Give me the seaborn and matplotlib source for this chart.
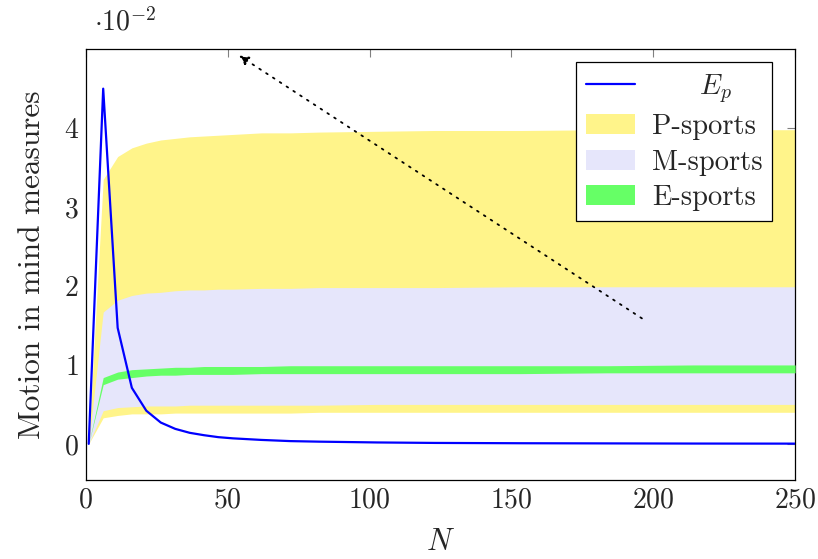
import numpy as np
import pandas as pd
import matplotlib
matplotlib.use('Agg')
import matplotlib.pyplot as plt
import seaborn as sns

# sample points along N
N = [1, 6.1, 11.2, 16.2, 21.3, 26.4, 31.5, 36.6, 41.6, 46.7, 51.8, 61.9, 72.1,
     82.3, 102.6, 122.9, 153.4, 183.9, 214.4, 250]

# values in units of 1e-2
ep = [0, 4.5, 1.47, 0.71, 0.42, 0.27, 0.19, 0.14, 0.11, 0.085, 0.07, 0.05, 0.035,
      0.028, 0.018, 0.012, 0.008, 0.006, 0.004, 0.003]
p_upper = [0, 3.35, 3.64, 3.75, 3.81, 3.85, 3.87, 3.89, 3.90, 3.91, 3.92, 3.94, 3.94,
           3.95, 3.96, 3.97, 3.97, 3.98, 3.98, 3.98]
p_lower = [0, 0.33, 0.36, 0.38, 0.38, 0.38, 0.39, 0.39, 0.39, 0.39, 0.39, 0.39, 0.39,
           0.40, 0.40, 0.40, 0.40, 0.40, 0.40, 0.40]
m_upper = [0, 1.67, 1.82, 1.88, 1.91, 1.92, 1.94, 1.95, 1.95, 1.96, 1.96, 1.97, 1.97,
           1.98, 1.98, 1.98, 1.99, 1.99, 1.99, 1.99]
m_lower = [0, 0.42, 0.46, 0.47, 0.48, 0.48, 0.48, 0.49, 0.49, 0.49, 0.49, 0.49, 0.49,
           0.49, 0.50, 0.50, 0.50, 0.50, 0.50, 0.50]
e_upper = [0, 0.84, 0.91, 0.94, 0.95, 0.96, 0.97, 0.97, 0.98, 0.98, 0.98, 0.98, 0.99,
           0.99, 0.99, 0.99, 0.99, 0.99, 1.00, 1.00]
e_lower = [0, 0.75, 0.82, 0.84, 0.86, 0.87, 0.87, 0.88, 0.88, 0.88, 0.88, 0.89, 0.89,
           0.89, 0.89, 0.89, 0.89, 0.90, 0.90, 0.90]

x_ticks = [0, 50, 100, 150, 200, 250]
y_ticks = [0, 1, 2, 3, 4]

# dotted arrow (tail -> head)
arrow_tail = (196, 1.59)
arrow_head = (54, 4.92)

sns.set_style('white')
plt.rcParams['font.family'] = ['cmr10', 'DejaVu Serif']
plt.rcParams['mathtext.fontset'] = 'cm'
plt.rcParams['axes.formatter.use_mathtext'] = True
plt.rcParams['font.size'] = 20

ep_label = '     $E_p$'
df = pd.DataFrame({'N': N, 'Ep': ep})

fig = plt.figure(figsize=(8.18, 5.59), dpi=100)
ax = fig.add_axes([0.105, 0.141, 0.867, 0.771])

ax.fill_between(N, p_lower, p_upper, color='#fff48a', lw=0, label='P-sports', zorder=1)
ax.fill_between(N, m_lower, m_upper, color='#e6e6fb', lw=0, label='M-sports', zorder=2)
ax.fill_between(N, e_lower, e_upper, color='#66ff66', lw=0, label='E-sports', zorder=3)
sns.lineplot(data=df, x='N', y='Ep', color='#0000ff', lw=1.6, ax=ax,
             label=ep_label, zorder=4)

ax.annotate('', xy=arrow_head, xytext=arrow_tail,
            arrowprops=dict(arrowstyle='-|>', color='black', lw=1.3,
                            linestyle=(0, (1, 3.5)), mutation_scale=14, shrinkA=0, shrinkB=0),
            zorder=5)

ax.set_xlim(0, 250)
ax.set_ylim(-0.46, 5.0)
ax.set_xticks(x_ticks)
ax.set_yticks(y_ticks)
ax.tick_params(direction='in', top=True, right=True, length=6, width=0.8,
               color='#808080', labelsize=20, pad=5)
for s in ax.spines.values():
    s.set_color('black')
    s.set_linewidth(0.9)

ax.set_xlabel('$N$', fontsize=22, labelpad=11)
ax.set_ylabel('Motion in mind measures', fontsize=22.5, labelpad=13)
ax.text(0.012, 1.03, r'$\cdot 10^{-2}$', transform=ax.transAxes, fontsize=20,
        ha='left', va='bottom')

handles, labels = ax.get_legend_handles_labels()
order = [labels.index(l) for l in [ep_label, 'P-sports', 'M-sports', 'E-sports']]
leg = ax.legend([handles[i] for i in order], [labels[i] for i in order],
                loc='upper right', bbox_to_anchor=(0.968, 0.97), borderaxespad=0,
                fontsize=20.5, frameon=True, fancybox=False, edgecolor='black',
                framealpha=1, borderpad=0.35, labelspacing=0.32, handlelength=1.7,
                handletextpad=0.6)
leg.get_frame().set_linewidth(0.9)

fig.savefig('out.png', dpi=100)
